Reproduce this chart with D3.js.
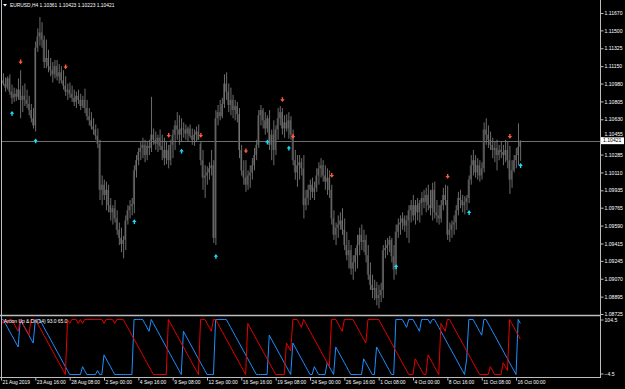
<!DOCTYPE html>
<html><head><meta charset="utf-8">
<script src="https://cdn.jsdelivr.net/npm/d3@7"></script>
<style>html,body{margin:0;padding:0;background:#000;overflow:hidden}svg{display:block}</style>
</head><body><svg id="c" width="625" height="389"></svg>
<script>
// ---------- DATA (EURUSD H4, 243 bars) ----------
const symbolTitle = "EURUSD,H4";
const lastBarText = ["1.10361", "1.10423", "1.10223", "1.10421"];
const indicatorText = "Aroon Up & Dn(14) 93.0 65.0";

const opens = [1.1099,1.1101,1.1098,1.1094,1.1103,1.1090,1.1084,1.1088,1.1085,1.1092,1.1082,1.1086,1.1082,1.1078,1.1072,1.1064,1.1057,1.1133,1.1144,1.1148,
1.1141,1.1119,1.1123,1.1115,1.1111,1.1107,1.1115,1.1105,1.1109,1.1101,1.1096,1.1090,1.1092,1.1088,1.1084,1.1080,1.1086,1.1082,1.1076,1.1082,
1.1074,1.1066,1.1062,1.1056,1.1053,1.1047,1.1039,1.0994,1.0999,1.0989,1.0994,1.0979,1.0972,1.0976,1.0966,1.0955,1.0947,1.0941,1.0945,1.0964,
1.0974,1.0978,1.0980,1.1013,1.1023,1.1031,1.1035,1.1038,1.1028,1.1037,1.1035,1.1048,1.1043,1.1039,1.1045,1.1037,1.1033,1.1025,1.1033,1.1023,
1.1038,1.1048,1.1057,1.1053,1.1048,1.1054,1.1053,1.1049,1.1054,1.1047,1.1043,1.1048,1.1051,1.1039,1.1023,1.1006,1.1008,1.1011,1.1015,1.1018,
1.0947,1.1064,1.1070,1.1066,1.1078,1.1098,1.1090,1.1077,1.1082,1.1072,1.1076,1.1068,1.1033,1.1013,1.1006,1.0999,1.1008,1.1011,1.1018,1.1028,
1.1038,1.1067,1.1072,1.1062,1.1054,1.1064,1.1038,1.1048,1.1033,1.1053,1.1064,1.1070,1.1054,1.1060,1.1054,1.1062,1.1048,1.1023,1.1011,1.1018,
1.1021,1.1015,1.0979,1.0986,1.0994,1.0999,1.0992,1.0996,1.1008,1.1015,1.1018,1.1008,1.1002,1.1006,1.0994,1.0966,1.0950,1.0957,1.0960,1.0964,
1.0955,1.0940,1.0930,1.0935,1.0917,1.0923,1.0930,1.0940,1.0950,1.0943,1.0945,1.0930,1.0911,1.0901,1.0896,1.0898,1.0888,1.0891,1.0896,1.0935,
1.0937,1.0940,1.0945,1.0929,1.0916,1.0953,1.0960,1.0962,1.0966,1.0959,1.0964,1.0974,1.0979,1.0969,1.0979,1.0972,1.0981,1.0986,1.0982,1.0989,
1.0979,1.0976,1.0994,1.0972,1.0969,1.0966,1.0979,1.0989,1.0984,1.0950,1.0955,1.0960,1.0962,1.0974,1.0986,1.0984,1.0979,1.0982,1.0986,1.1004,
1.1018,1.1023,1.1011,1.1018,1.1008,1.1015,1.1053,1.1048,1.1043,1.1038,1.1033,1.1035,1.1028,1.1033,1.1031,1.1028,1.1033,1.1023,1.1004,1.1013,
1.1023,1.1028,1.10361];

const highs = [1.1106,1.1108,1.1104,1.1105,1.1107,1.1097,1.1094,1.1093,1.1103,1.1111,1.1096,1.1098,1.1092,1.1086,1.1078,1.1074,1.1139,1.1152,1.1163,1.1158,
1.1145,1.1141,1.1131,1.1123,1.1119,1.1121,1.1121,1.1117,1.1115,1.1111,1.1105,1.1098,1.1099,1.1096,1.1092,1.1090,1.1092,1.1088,1.1086,1.1093,
1.1082,1.1074,1.1070,1.1064,1.1058,1.1054,1.1043,1.1008,1.1004,1.1002,1.0999,1.0986,1.0979,1.0984,1.0974,1.0962,1.0957,1.0949,1.0969,1.0979,
1.0984,1.0986,1.1018,1.1028,1.1035,1.1041,1.1045,1.1043,1.1041,1.1043,1.1085,1.1054,1.1051,1.1048,1.1053,1.1048,1.1045,1.1041,1.1038,1.1043,
1.1053,1.1062,1.1070,1.1067,1.1064,1.1060,1.1058,1.1056,1.1058,1.1054,1.1053,1.1056,1.1058,1.1041,1.1033,1.1018,1.1017,1.1021,1.1033,1.1023,
1.1072,1.1077,1.1082,1.1084,1.1107,1.1109,1.1098,1.1094,1.1087,1.1082,1.1080,1.1074,1.1038,1.1023,1.1023,1.1013,1.1018,1.1025,1.1035,1.1043,
1.1072,1.1077,1.1074,1.1070,1.1067,1.1072,1.1053,1.1062,1.1057,1.1074,1.1076,1.1074,1.1067,1.1068,1.1070,1.1066,1.1053,1.1033,1.1028,1.1028,
1.1025,1.1028,1.0994,1.0999,1.1004,1.1006,1.1002,1.1015,1.1021,1.1025,1.1023,1.1018,1.1015,1.1013,1.0999,1.0974,1.0962,1.0969,1.0972,1.0976,
1.0966,1.0953,1.0945,1.0940,1.0930,1.0937,1.0950,1.0957,1.0960,1.0955,1.0950,1.0940,1.0923,1.0911,1.0906,1.0904,1.0901,1.0903,1.0940,1.0945,
1.0947,1.0949,1.0947,1.0940,1.0960,1.0966,1.0969,1.0972,1.0969,1.0969,1.0979,1.0984,1.0989,1.0984,1.0986,1.0984,1.0992,1.0994,1.0996,1.0999,
1.0994,1.1001,1.1002,1.0984,1.0979,1.0984,1.0996,1.0999,1.0998,1.0962,1.0964,1.0969,1.0979,1.0992,1.0994,1.0989,1.0988,1.0989,1.1008,1.1028,
1.1033,1.1028,1.1025,1.1023,1.1021,1.1060,1.1064,1.1057,1.1051,1.1045,1.1041,1.1043,1.1038,1.1041,1.1038,1.1043,1.1041,1.1037,1.1023,1.1028,
1.1035,1.1059,1.10423];

const lows = [1.1094,1.1096,1.1090,1.1092,1.1087,1.1078,1.1080,1.1081,1.1082,1.1064,1.1070,1.1076,1.1074,1.1067,1.1060,1.1054,1.1051,1.1129,1.1135,1.1133,
1.1113,1.1113,1.1109,1.1105,1.1099,1.1103,1.1101,1.1098,1.1098,1.1092,1.1086,1.1082,1.1084,1.1080,1.1076,1.1074,1.1078,1.1072,1.1074,1.1069,
1.1062,1.1057,1.1053,1.1048,1.1043,1.1035,1.0984,1.0979,1.0984,1.0974,1.0972,1.0964,1.0960,1.0962,1.0950,1.0940,1.0933,1.0927,1.0935,1.0960,
1.0966,1.0969,1.0971,1.1006,1.1018,1.1023,1.1025,1.1021,1.1023,1.1028,1.1031,1.1038,1.1033,1.1031,1.1033,1.1023,1.1018,1.1019,1.1015,1.1018,
1.1025,1.1033,1.1043,1.1038,1.1041,1.1045,1.1043,1.1041,1.1045,1.1038,1.1037,1.1041,1.1043,1.1018,1.0994,1.0986,1.0999,1.1004,1.1008,1.0942,
1.0940,1.1057,1.1062,1.1064,1.1074,1.1082,1.1070,1.1067,1.1064,1.1062,1.1060,1.1025,1.1008,1.0999,1.0992,1.0994,1.0996,1.1004,1.1013,1.1023,
1.1035,1.1057,1.1054,1.1048,1.1050,1.1033,1.1023,1.1018,1.1028,1.1043,1.1057,1.1048,1.1045,1.1051,1.1044,1.1043,1.1018,1.1004,1.0997,1.1004,
1.1008,1.0966,1.0974,1.0979,1.0984,1.0986,1.0984,1.0992,1.0999,1.1006,1.1002,1.0994,1.0989,1.0986,1.0960,1.0945,1.0940,1.0947,1.0955,1.0950,
1.0935,1.0925,1.0917,1.0911,1.0906,1.0914,1.0917,1.0930,1.0935,1.0933,1.0923,1.0906,1.0896,1.0888,1.0886,1.0881,1.0878,1.0884,1.0888,1.0927,
1.0930,1.0933,1.0923,1.0906,1.0911,1.0947,1.0950,1.0955,1.0953,1.0947,1.0942,1.0962,1.0964,1.0960,1.0964,1.0962,1.0969,1.0976,1.0972,1.0974,
1.0969,1.0964,1.0966,1.0962,1.0960,1.0962,1.0974,1.0979,1.0945,1.0943,1.0947,1.0950,1.0955,1.0969,1.0976,1.0972,1.0970,1.0974,1.0981,1.0999,
1.1008,1.1006,1.1004,1.1002,1.1004,1.1011,1.1038,1.1035,1.1033,1.1025,1.1021,1.1013,1.1023,1.1025,1.1018,1.1021,1.1015,1.0990,1.0996,1.1011,
1.1015,1.1018,1.10223];

const closes = [1.1101,1.1098,1.1094,1.1103,1.1090,1.1084,1.1088,1.1085,1.1092,1.1082,1.1086,1.1082,1.1078,1.1072,1.1064,1.1057,1.1133,1.1144,1.1148,1.1141,
1.1119,1.1123,1.1115,1.1111,1.1107,1.1115,1.1105,1.1109,1.1101,1.1096,1.1090,1.1092,1.1088,1.1084,1.1080,1.1086,1.1082,1.1076,1.1082,1.1074,
1.1066,1.1062,1.1056,1.1053,1.1047,1.1039,1.0994,1.0999,1.0989,1.0994,1.0979,1.0972,1.0976,1.0966,1.0955,1.0947,1.0941,1.0945,1.0964,1.0974,
1.0978,1.0980,1.1013,1.1023,1.1031,1.1035,1.1038,1.1028,1.1037,1.1035,1.1048,1.1043,1.1039,1.1045,1.1037,1.1033,1.1025,1.1033,1.1023,1.1038,
1.1048,1.1057,1.1053,1.1048,1.1054,1.1053,1.1049,1.1054,1.1047,1.1043,1.1048,1.1051,1.1043,1.1023,1.1006,1.1008,1.1011,1.1015,1.1018,1.0947,
1.1064,1.1070,1.1066,1.1078,1.1098,1.1090,1.1077,1.1082,1.1072,1.1076,1.1068,1.1033,1.1013,1.1006,1.0999,1.1008,1.1011,1.1018,1.1028,1.1038,
1.1067,1.1072,1.1062,1.1054,1.1064,1.1038,1.1048,1.1033,1.1053,1.1064,1.1070,1.1054,1.1060,1.1054,1.1062,1.1048,1.1023,1.1011,1.1018,1.1021,
1.1015,1.0979,1.0986,1.0994,1.0999,1.0992,1.0996,1.1008,1.1015,1.1018,1.1008,1.1002,1.1006,1.0994,1.0966,1.0950,1.0957,1.0960,1.0964,1.0955,
1.0940,1.0930,1.0935,1.0917,1.0923,1.0930,1.0940,1.0950,1.0943,1.0945,1.0930,1.0911,1.0901,1.0896,1.0898,1.0888,1.0891,1.0896,1.0935,1.0937,
1.0940,1.0945,1.0929,1.0916,1.0953,1.0960,1.0962,1.0966,1.0959,1.0964,1.0974,1.0979,1.0969,1.0979,1.0972,1.0981,1.0986,1.0982,1.0989,1.0979,
1.0976,1.0994,1.0972,1.0969,1.0966,1.0979,1.0989,1.0984,1.0950,1.0955,1.0960,1.0962,1.0974,1.0986,1.0984,1.0979,1.0982,1.0986,1.1004,1.1018,
1.1023,1.1011,1.1018,1.1008,1.1015,1.1053,1.1048,1.1043,1.1038,1.1033,1.1035,1.1028,1.1033,1.1031,1.1028,1.1033,1.1023,1.1004,1.1013,1.1023,
1.1028,1.1036,1.10421];

// signal arrows (bar index, price where arrow sits)
const sellBars   = [9, 30, 78, 93, 114, 131, 136, 154, 208, 237];
const sellPrices = [1.1119, 1.1114, 1.1047, 1.1047, 1.1032, 1.1082, 1.1046, 1.1008, 1.1007, 1.1046];
const buyBars    = [5, 16, 62, 84, 100, 124, 134, 184, 218, 242];
const buyPrices  = [1.1069, 1.1042, 1.0963, 1.1032, 1.0929, 1.1041, 1.1035, 1.0919, 1.0972, 1.1018];

// axes
const priceTicks = [1.11670,1.11500,1.11325,1.11150,1.10980,1.10805,1.10630,1.10455,1.10285,1.10110,1.09935,1.09765,1.09590,1.09415,1.09245,1.09070,1.08895,1.08725];
const dateTickBars = [0,16,32,48,64,80,96,112,128,144,160,176,192,208,224,240];
const dateTickLabels = ["21 Aug 2019","23 Aug 16:00","28 Aug 08:00","2 Sep 00:00","4 Sep 16:00","9 Sep 08:00","12 Sep 00:00","16 Sep 16:00","19 Sep 08:00","24 Sep 00:00","26 Sep 16:00","1 Oct 08:00","4 Oct 00:00","8 Oct 16:00","11 Oct 08:00","16 Oct 00:00"];
const indTicks = [104.5, -4.5];
const aroonPeriod = 14;

// ---------- DRAW ----------
const W = 625, H = 389;
const FONT = "'Liberation Sans', Arial, sans-serif";
const svg = d3.select("#c");
svg.append("rect").attr("width", W).attr("height", H).attr("fill", "#000");

const N = closes.length;
const x = d3.scaleLinear().domain([0, 279]).range([1, 1 + 2.146 * 279]);
const y = d3.scaleLinear().domain([1.08725, 1.11670]).range([314, 13]);
const yi = d3.scaleLinear().domain([-4.5, 104.5]).range([377, 317]);

const defs = svg.append("defs");
defs.append("clipPath").attr("id", "cm").append("rect").attr("x", 1).attr("y", 0).attr("width", 599).attr("height", 315);
defs.append("clipPath").attr("id", "ci").append("rect").attr("x", 1).attr("y", 316.5).attr("width", 599).attr("height", 60.5);

// current price line
const gMain = svg.append("g").attr("clip-path", "url(#cm)");
const lastClose = closes[N - 1];
gMain.append("line").attr("x1", 1).attr("x2", 600).attr("y1", Math.round(y(lastClose)) + 0.5).attr("y2", Math.round(y(lastClose)) + 0.5)
  .attr("stroke", "#6e6e6e").attr("stroke-width", 1);

// candles
const bars = d3.range(N);
const gc = gMain.append("g");
gc.selectAll("rect.body").data(bars).join("rect").attr("class", "body")
  .attr("x", i => x(i) - 1.2).attr("width", 1.6)
  .attr("y", i => y(Math.max(opens[i], closes[i])))
  .attr("height", i => Math.max(0.8, Math.abs(y(opens[i]) - y(closes[i]))))
  .attr("fill", "#444");
gc.selectAll("line.wick").data(bars).join("line").attr("class", "wick")
  .attr("x1", i => x(i) + 0.3).attr("x2", i => x(i) + 0.3)
  .attr("y1", i => y(highs[i])).attr("y2", i => y(lows[i]))
  .attr("stroke", "#808080").attr("stroke-width", 0.85);

// arrows
const downArrow = (cx, cy) => `M${cx-0.7},${cy-2.6}L${cx+0.7},${cy-2.6}L${cx+0.7},${cy-0.6}L${cx+2.2},${cy-0.6}L${cx},${cy+2.2}L${cx-2.2},${cy-0.6}L${cx-0.7},${cy-0.6}Z`;
const upArrow = (cx, cy) => `M${cx-0.7},${cy+2.6}L${cx+0.7},${cy+2.6}L${cx+0.7},${cy+0.6}L${cx+2.2},${cy+0.6}L${cx},${cy-2.2}L${cx-2.2},${cy+0.6}L${cx-0.7},${cy+0.6}Z`;
gMain.selectAll("path.sell").data(sellBars).join("path").attr("class", "sell")
  .attr("d", (b, k) => downArrow(x(b) + 0.3, y(sellPrices[k]))).attr("fill", "#ff5a36");
gMain.selectAll("path.buy").data(buyBars).join("path").attr("class", "buy")
  .attr("d", (b, k) => upArrow(x(b) + 0.3, y(buyPrices[k]))).attr("fill", "#19dcff");

// Aroon computed from highs / lows
const aroonUp = [], aroonDn = [];
for (let i = 0; i < N; i++) {
  const s = Math.max(0, i - aroonPeriod);
  let hi = s, lo = s;
  for (let j = s; j <= i; j++) {
    if (highs[j] >= highs[hi]) hi = j;
    if (lows[j] <= lows[lo]) lo = j;
  }
  aroonUp.push(100 * (aroonPeriod - (i - hi)) / aroonPeriod);
  aroonDn.push(100 * (aroonPeriod - (i - lo)) / aroonPeriod);
}
const gInd = svg.append("g").attr("clip-path", "url(#ci)");
const ln = arr => d3.line().x(i => x(i)).y(i => yi(arr[i]))(bars);
gInd.append("path").attr("d", ln(aroonUp)).attr("fill", "none").attr("stroke", "#1e8fff").attr("stroke-width", 1);
gInd.append("path").attr("d", ln(aroonDn)).attr("fill", "none").attr("stroke", "#e60000").attr("stroke-width", 1);

// frame lines
const frame = "#bdbdbd";
svg.append("line").attr("x1", 1.5).attr("x2", 1.5).attr("y1", 0).attr("y2", 378).attr("stroke", frame);
svg.append("line").attr("x1", 600.5).attr("x2", 600.5).attr("y1", 0).attr("y2", 378).attr("stroke", frame);
svg.append("line").attr("x1", 0).attr("x2", 601).attr("y1", 315.5).attr("y2", 315.5).attr("stroke", frame).attr("stroke-width", 1.6);
svg.append("line").attr("x1", 0).attr("x2", 601).attr("y1", 377.5).attr("y2", 377.5).attr("stroke", frame);

// right price axis
const axR = svg.append("g").attr("transform", "translate(600.5,0)")
  .call(d3.axisRight(y).tickValues(priceTicks).tickFormat(d3.format(".5f")).tickSize(3).tickPadding(1));
axR.select(".domain").remove();
axR.selectAll("line").attr("stroke", frame);
axR.selectAll("text").attr("fill", "#fff").style("font-family", FONT).style("font-size", "5.1px");
// the tick label right under the current-price box sits a little higher, as in MT4
axR.selectAll(".tick").filter(d => Math.abs(y(d) - y(closes[N - 1])) < 6).select("text").attr("dy", "-0.35em");

// indicator right axis
const axI = svg.append("g").attr("transform", "translate(600.5,0)")
  .call(d3.axisRight(yi).tickValues(indTicks).tickFormat(d3.format(".1f")).tickSize(3).tickPadding(1));
axI.select(".domain").remove();
axI.selectAll(".tick").attr("transform", d => `translate(0,${d > 50 ? 320 : 374})`);
axI.selectAll("line").attr("stroke", frame);
axI.selectAll("text").attr("fill", "#fff").style("font-family", FONT).style("font-size", "5.1px");

// current price label box
const lp = y(lastClose);
svg.append("rect").attr("x", 601).attr("y", lp - 3.3).attr("width", 23).attr("height", 6.8).attr("fill", "#fff");
svg.append("text").attr("x", 603).attr("y", lp).attr("dy", "0.34em").attr("fill", "#000")
  .style("font-family", FONT).style("font-size", "5.1px").text(d3.format(".5f")(lastClose));

// bottom time axis
const axB = svg.append("g").attr("transform", "translate(0,377.5)")
  .call(d3.axisBottom(x).tickValues(dateTickBars).tickFormat((d, k) => dateTickLabels[k]).tickSize(3).tickPadding(0));
axB.select(".domain").remove();
axB.selectAll("line").attr("stroke", frame);
axB.selectAll("text").attr("fill", "#fff").attr("text-anchor", "start").attr("x", 1)
  .style("font-family", FONT).style("font-size", "4.9px");

// title
svg.append("path").attr("d", "M3,4L7,4L5,6.5Z").attr("fill", "#fff");
svg.append("text").attr("x", 10).attr("y", 7.3).attr("fill", "#fff").style("font-family", FONT).style("font-size", "4.9px")
  .text(symbolTitle + " " + lastBarText.join(" "));

// indicator label
svg.append("text").attr("x", 4).attr("y", 322.5).attr("fill", "#fff").style("font-family", FONT).style("font-size", "4.9px")
  .text(indicatorText);
</script>
</body></html>
